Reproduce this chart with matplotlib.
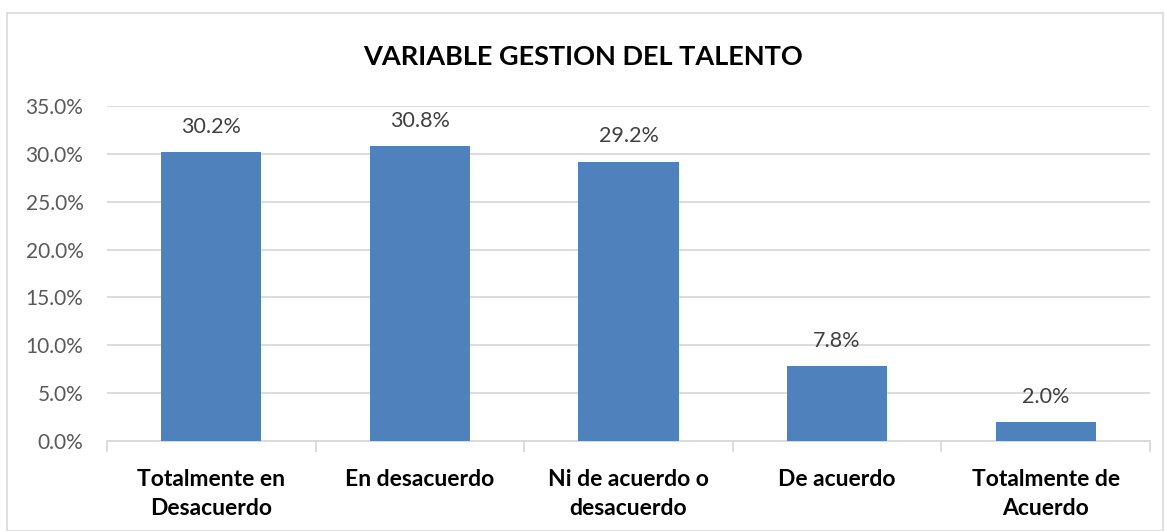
import matplotlib.pyplot as plt
from matplotlib.patches import Rectangle
from matplotlib.ticker import FixedLocator

categories = ["Totalmente en\nDesacuerdo", "En desacuerdo", "Ni de acuerdo o\ndesacuerdo",
              "De acuerdo", "Totalmente de\nAcuerdo"]
values = [30.2, 30.8, 29.2, 7.8, 2.0]
y_ticks = [0, 5, 10, 15, 20, 25, 30, 35]

plt.rcParams['font.family'] = ['Lato', 'DejaVu Sans']

fig = plt.figure(figsize=(11.66, 5.31), dpi=100)
ax = fig.add_axes([107 / 1166, 1 - 441 / 531, (1150 - 107) / 1166, (441 - 106) / 531])

# borde del gráfico
fig.patches.append(Rectangle((7 / 1166, 0), (1163 - 7) / 1166, 1 - 13 / 531,
                             transform=fig.transFigure, fill=False,
                             edgecolor='#D9D9D9', linewidth=1.2))

x = list(range(len(categories)))
ax.bar(x, values, width=0.48, color='#4F81BD', zorder=3)

for xi, v in zip(x, values):
    ax.annotate("{:.1f}%".format(v), (xi, v), xytext=(0, 11), textcoords='offset points',
                ha='center', va='bottom', fontsize=15.5, color='#404040')

ax.set_xlim(-0.5, len(categories) - 0.5)
ax.set_ylim(0, 35)
ax.set_yticks(y_ticks)
ax.set_yticklabels(["{:.1f}%".format(t) for t in y_ticks], fontsize=15, color='#595959')
ax.yaxis.grid(True, color='#D9D9D9', linewidth=1.3, zorder=0)
ax.tick_params(axis='y', length=0, pad=17)

ax.set_xticks(x)
ax.set_xticklabels(categories, fontsize=16.5, fontweight='bold', color='black', linespacing=1.5)
ax.xaxis.set_minor_locator(FixedLocator([i - 0.5 for i in range(len(categories) + 1)]))
ax.tick_params(axis='x', which='major', length=0, pad=20)
ax.tick_params(axis='x', which='minor', length=8, color='#D9D9D9', width=1.3)

for s in ['top', 'right', 'left']:
    ax.spines[s].set_visible(False)
ax.spines['bottom'].set_color('#D9D9D9')
ax.spines['bottom'].set_linewidth(1.3)

fig.text(0.5, 1 - 57 / 531, "VARIABLE GESTION DEL TALENTO", ha='center', va='center',
         fontsize=19.5, fontweight='bold', color='black')

fig.savefig("out.png", dpi=100)
